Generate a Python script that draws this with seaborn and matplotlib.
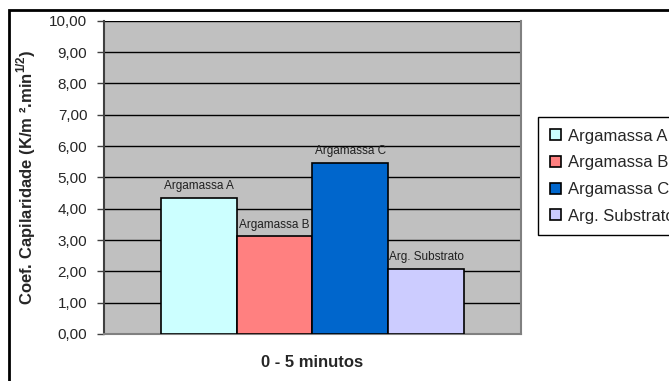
import matplotlib
matplotlib.use("Agg")
from matplotlib import pyplot as plt
from matplotlib.patches import Rectangle
from matplotlib.ticker import FuncFormatter, MultipleLocator
import seaborn as sns
import pandas as pd

# ----------- data ------------------------------------
periodos = ["0 - 5 minutos"]
series = ["Argamassa A", "Argamassa B", "Argamassa C", "Arg. Substrato"]
valores = [4.35, 3.12, 5.46, 2.08]
cores = ["#CCFFFF", "#FF8080", "#0066CC", "#CCCCFF"]

df = pd.DataFrame({
    "periodo": periodos * len(series),
    "serie": series,
    "valor": valores,
})

sns.set_theme(style="white")
plt.rcParams["font.family"] = ["Liberation Sans", "DejaVu Sans"]
plt.rcParams["mathtext.fontset"] = "custom"
plt.rcParams["mathtext.rm"] = "Liberation Sans"
plt.rcParams["mathtext.bf"] = "Liberation Sans:bold"

fig = plt.figure(figsize=(6.69, 3.81), dpi=100)
ax = fig.add_axes([0.1555, 0.1234, 0.623, 0.822])

sns.barplot(data=df, x="periodo", y="valor", hue="serie", hue_order=series,
            palette=cores, edgecolor="black", linewidth=1.2, width=0.727,
            saturation=1, ax=ax, legend=True, zorder=3)

ax.set_facecolor("#C0C0C0")
ax.set_ylim(0, 10)
ax.yaxis.set_major_locator(MultipleLocator(1))
ax.yaxis.set_major_formatter(FuncFormatter(lambda v, p: f"{v:.2f}".replace(".", ",")))
ax.grid(axis="y", color="black", linewidth=1, zorder=0)
ax.set_axisbelow(True)
ax.tick_params(axis="y", left=True, length=5, width=1, color="#404040", pad=7, labelsize=11)
ax.tick_params(axis="x", bottom=False, labelbottom=False)

for s in ax.spines.values():
    s.set_color("#808080")
    s.set_linewidth(1.5)
ax.spines["left"].set_color("#404040")
ax.spines["top"].set_visible(False)

for cont, nome in zip(ax.containers, series):
    ax.bar_label(cont, labels=[nome], padding=4, fontsize=8.5, color="#202020")

ax.set_xlabel("0 - 5 minutos", fontsize=12, fontweight="bold", labelpad=15)
ax.set_ylabel("Coef. Capilaridade (K/m ².min$^{\\mathbf{1/2}}$)", fontsize=12,
              fontweight="bold", labelpad=8)

handles, labels = ax.get_legend_handles_labels()
ax.legend(handles, labels, loc="upper left", bbox_to_anchor=(538 / 669, 1 - 117 / 381),
          bbox_transform=fig.transFigure, frameon=True, fancybox=False, shadow=False,
          edgecolor="black", framealpha=1, fontsize=12, handlelength=0.65,
          handleheight=0.65, handletextpad=0.45, labelspacing=0.7, borderpad=0.7,
          borderaxespad=0)
ax.get_legend().get_frame().set_linewidth(1)

# outer chart frame (cropped at right/bottom in the reference)
fig.patches.append(Rectangle((9 / 669, -0.1), 1.2, 1.1 - 10 / 381, transform=fig.transFigure,
                             fill=False, edgecolor="black", linewidth=2))

fig.savefig("out.png", dpi=100)
